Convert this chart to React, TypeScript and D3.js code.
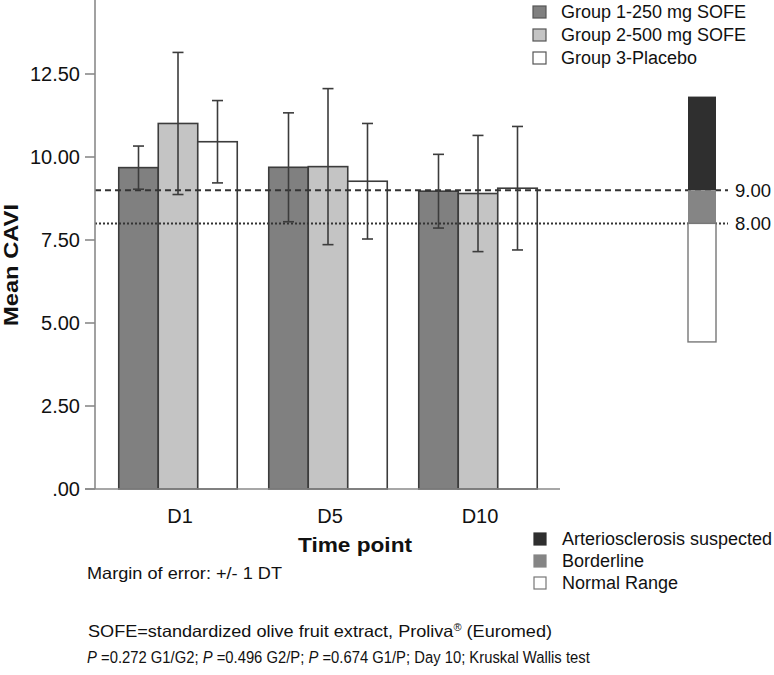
import React, { useLayoutEffect, useRef, useState } from "react";
import * as d3 from "d3";

const timePoints = ["D1", "D5", "D10"];
const groups = ["Group 1-250 mg SOFE", "Group 2-500 mg SOFE", "Group 3-Placebo"];
const groupColors = ["#808080", "#c4c4c4", "#ffffff"];
const meanG1 = [9.68, 9.69, 8.97];
const meanG2 = [11.01, 9.71, 8.9];
const meanG3 = [10.46, 9.27, 9.06];
const sdG1 = [0.65, 1.64, 1.11];
const sdG2 = [2.14, 2.35, 1.75];
const sdG3 = [1.24, 1.74, 1.86];
const yTicks = [0, 2.5, 5, 7.5, 10, 12.5];
const refLines = [9, 8];
const zones = ["Arteriosclerosis suspected", "Borderline", "Normal Range"];
const zoneBounds = [11.82, 9, 8, 4.43];
const zoneColors = ["#2f2f2f", "#858585", "#ffffff"];

const means = [meanG1, meanG2, meanG3];
const sds = [sdG1, sdG2, sdG3];

const font = "'Liberation Sans', Arial, Helvetica, sans-serif";

export default function App() {
  const y = d3.scaleLinear().domain([0, 12.5]).range([489, 74]);
  const x0 = d3.scaleBand().domain(timePoints).range([103, 553]).padding(0);
  const x1 = d3.scaleBand().domain(groups).range([15.75, 134.25]).padding(0);
  const fmt = (d: number) => (d === 0 ? ".00" : d3.format(".2f")(d));
  const yTop = y.invert(0);
  const stripX = 688;
  const stripW = 28;

  const pRef = useRef<SVGTextElement>(null);
  const [pScale, setPScale] = useState(0.8);
  useLayoutEffect(() => {
    if (pRef.current) {
      const w = pRef.current.getBBox().width;
      if (w > 0) setPScale(503 / w);
    }
  }, []);

  return (
    <svg
      width={774}
      height={675}
      style={{ position: "absolute", left: 0, top: 0, background: "#fff" }}
      fontFamily={font}
    >
      {timePoints.map((t, i) =>
        groups.map((g, j) => {
          const v = means[j][i];
          const bx = (x0(t) as number) + (x1(g) as number);
          return (
            <rect
              key={t + g}
              x={bx}
              y={y(v)}
              width={x1.bandwidth()}
              height={y(0) - y(v)}
              fill={groupColors[j]}
              stroke="#3c3c3c"
              strokeWidth={1.6}
            />
          );
        })
      )}
      <line x1={95} x2={728} y1={y(refLines[0])} y2={y(refLines[0])} stroke="#333" strokeWidth={2} strokeDasharray="6,4" />
      <line x1={95} x2={728} y1={y(refLines[1])} y2={y(refLines[1])} stroke="#333" strokeWidth={2} strokeDasharray="2,2" />
      {timePoints.map((t, i) =>
        groups.map((g, j) => {
          const v = means[j][i];
          const s = sds[j][i];
          const cx = (x0(t) as number) + (x1(g) as number) + x1.bandwidth() / 2;
          return (
            <g key={"e" + t + g} stroke="#3c3c3c" strokeWidth={1.6}>
              <line x1={cx} x2={cx} y1={y(v + s)} y2={y(v - s)} />
              <line x1={cx - 5.5} x2={cx + 5.5} y1={y(v + s)} y2={y(v + s)} />
              <line x1={cx - 5.5} x2={cx + 5.5} y1={y(v - s)} y2={y(v - s)} />
            </g>
          );
        })
      )}
      <line x1={95} x2={95} y1={y(yTop)} y2={y(0)} stroke="#8a8a8a" strokeWidth={1.6} />
      <line x1={85} x2={560} y1={y(0)} y2={y(0)} stroke="#8a8a8a" strokeWidth={1.6} />
      {yTicks.map((d) => (
        <g key={d}>
          <line x1={85} x2={95} y1={y(d)} y2={y(d)} stroke="#8a8a8a" strokeWidth={1.6} />
          <text x={80} y={y(d) + 7} textAnchor="end" fontSize={20} fill="#111">
            {fmt(d)}
          </text>
        </g>
      ))}
      {timePoints.map((t) => (
        <text
          key={t}
          x={(x0(t) as number) + x0.bandwidth() / 2 + 2}
          y={523}
          textAnchor="middle"
          fontSize={20}
          fill="#111"
        >
          {t}
        </text>
      ))}
      <text
        transform="translate(18,265) rotate(-90)"
        textAnchor="middle"
        fontSize={21}
        fontWeight="bold"
        fill="#111"
        textLength={122}
        lengthAdjust="spacingAndGlyphs"
      >
        Mean CAVI
      </text>
      <text x={298} y={552} fontSize={21} fontWeight="bold" fill="#111" textLength={114} lengthAdjust="spacingAndGlyphs">
        Time point
      </text>

      {zones.map((z, k) => (
        <rect
          key={z}
          x={stripX}
          y={y(zoneBounds[k])}
          width={stripW}
          height={y(zoneBounds[k + 1]) - y(zoneBounds[k])}
          fill={zoneColors[k]}
          stroke={k === 2 ? "#777" : "none"}
          strokeWidth={1.4}
        />
      ))}
      {refLines.map((r) => (
        <text key={r} x={735} y={y(r) + 6.5} fontSize={18.5} fill="#111">
          {d3.format(".2f")(r)}
        </text>
      ))}

      {groups.map((g, j) => (
        <g key={"lg" + g}>
          <rect x={533} y={6 + j * 23} width={13} height={12} fill={groupColors[j]} stroke="#555" strokeWidth={1.2} />
          <text x={561} y={18 + j * 23} fontSize={18} fill="#111">
            {g}
          </text>
        </g>
      ))}
      {zones.map((z, k) => (
        <g key={"lz" + z}>
          <rect
            x={534}
            y={533 + k * 22}
            width={12}
            height={12}
            fill={zoneColors[k]}
            stroke={k === 2 ? "#777" : zoneColors[k]}
            strokeWidth={1.2}
          />
          <text x={562} y={545 + k * 22} fontSize={18} fill="#111">
            {z}
          </text>
        </g>
      ))}

      <text x={87} y={579} fontSize={16.5} fill="#111" textLength={195} lengthAdjust="spacingAndGlyphs">
        Margin of error: +/- 1 DT
      </text>
      <text x={88} y={637} fontSize={16.5} fill="#111" textLength={464} lengthAdjust="spacingAndGlyphs">
        SOFE=standardized olive fruit extract, Proliva<tspan fontSize={10} dy={-6}>®</tspan>
        <tspan dy={6}> (Euromed)</tspan>
      </text>
      <g transform={`translate(87,663) scale(${pScale},1)`}>
        <text ref={pRef} x={0} y={0} fontSize={17} fill="#111">
          <tspan fontStyle="italic">P</tspan> =0.272 G1/G2; <tspan fontStyle="italic">P</tspan> =0.496 G2/P;{" "}
          <tspan fontStyle="italic">P</tspan> =0.674 G1/P; Day 10; Kruskal Wallis test
        </text>
      </g>
    </svg>
  );
}
